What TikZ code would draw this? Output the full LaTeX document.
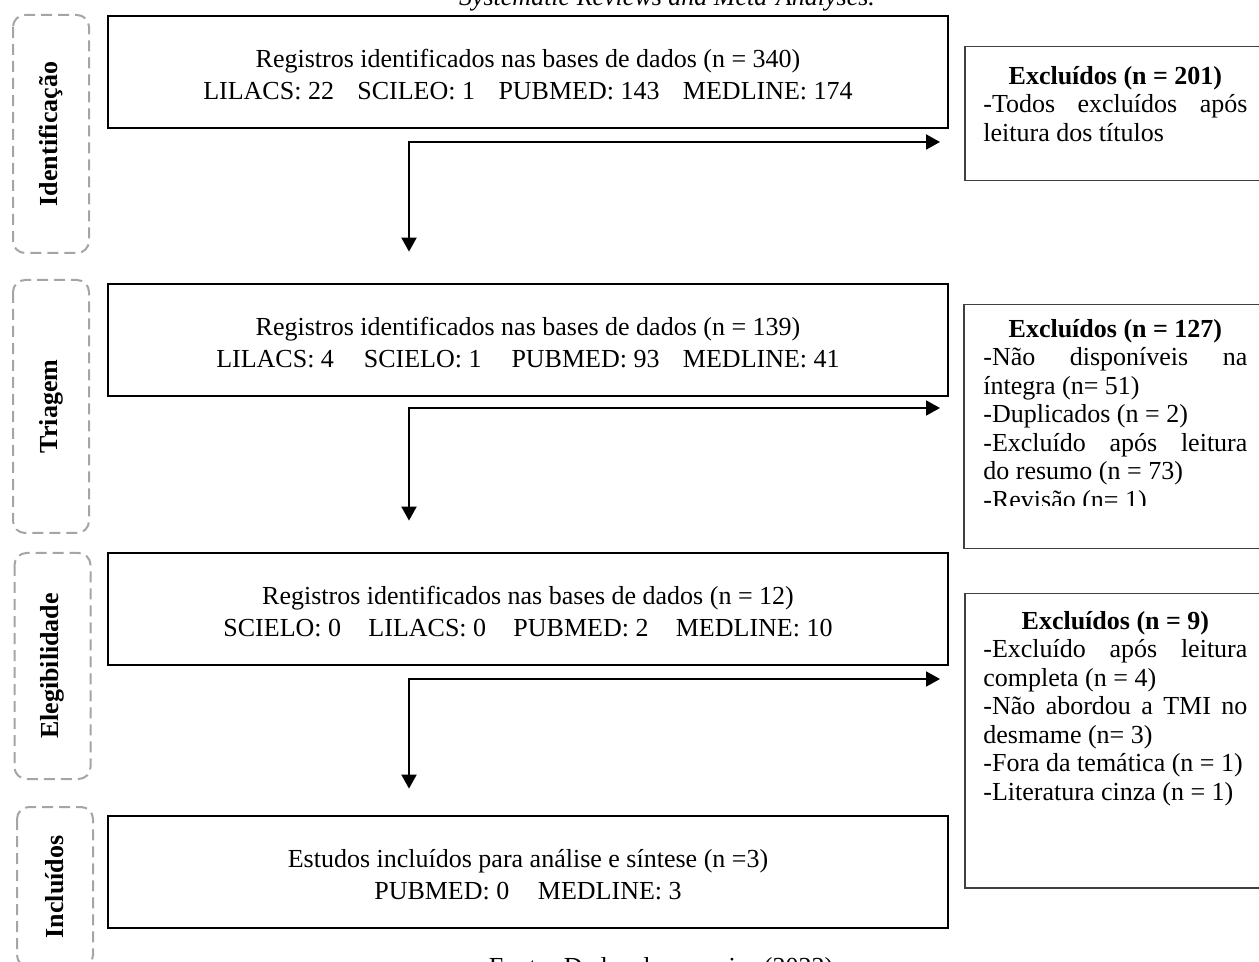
\documentclass[tikz,border=0pt]{standalone}
\usepackage{fontspec}
\setmainfont{Liberation Serif}
\usetikzlibrary{arrows.meta,calc}
\definecolor{phasegray}{RGB}{165,165,165}
\definecolor{exgray}{RGB}{64,64,64}
\newcommand\exsetup{\tolerance=10000 \hyphenpenalty=10000 \relax}
\newcommand\topstrut{\rule{0pt}{12pt}}
\begin{document}
\begin{tikzpicture}[x=0.5pt,y=-0.5pt,
  mainbox/.style={draw=black, line width=1.4pt, minimum width=420pt, minimum height=56pt,
    align=center, inner sep=0pt, font=\fontsize{13pt}{16pt}\selectfont},
  phase/.style={draw=phasegray, line width=1pt, dash pattern=on 5.5pt off 3pt,
    rounded corners=6pt, rotate=90, inner sep=0pt, minimum height=38pt,
    font=\bfseries\fontsize{13pt}{15pt}\selectfont},
  exbox/.style={draw=exgray, line width=0.75pt, anchor=north west, minimum width=151pt, inner sep=0pt},
  extext/.style={anchor=north west, inner sep=0pt, text width=132pt, align=justify,
    font=\fontsize{13pt}{14.25pt}\selectfont},
  arr/.style={line width=1pt, line cap=rect, -{Triangle[length=7pt,width=7.5pt]}},
  caption/.style={inner sep=0pt, anchor=base, font=\fontsize{13pt}{15pt}\selectfont}
]
\useasboundingbox (0,0) rectangle (1259,962);

% captions (partly outside the page, as in the reference)
\node[caption, font=\itshape\fontsize{13pt}{15pt}\selectfont] (title) at (667,6) {Systematic Reviews and Meta-Analyses.};
\node[caption] (source) at (661,975) {Fonte: Dados da pesquisa (2022)};

% phase labels
\node[phase, minimum width=119pt]   (pid)  at (51,134)   {Identificação};
\node[phase, minimum width=126.5pt] (ptri) at (51,406.5) {Triagem};
\node[phase, minimum width=113pt]   (pele) at (52.5,666) {Elegibilidade};
\node[phase, minimum width=80pt]    (pinc) at (55,887)   {Incluídos};

% main boxes
\node[mainbox] (b1) at (528,72)  {\topstrut Registros identificados nas bases de dados (n = 340)\\
  LILACS: 22\hspace{0.9em}SCILEO: 1\hspace{0.9em}PUBMED: 143\hspace{0.9em}MEDLINE: 174};
\node[mainbox] (b2) at (528,340) {\topstrut Registros identificados nas bases de dados (n = 139)\\
  LILACS: 4\hspace{1.15em}SCIELO: 1\hspace{1.15em}PUBMED: 93\hspace{0.9em}MEDLINE: 41};
\node[mainbox] (b3) at (528,609) {\topstrut Registros identificados nas bases de dados (n = 12)\\
  SCIELO: 0\hspace{1.05em}LILACS: 0\hspace{1.05em}PUBMED: 2\hspace{1.05em}MEDLINE: 10};
\node[mainbox] (b4) at (528,872) {\topstrut Estudos incluídos para análise e síntese (n =3)\\
  PUBMED: 0\hspace{1.1em}MEDLINE: 3};

% exclusion boxes
\node[exbox, minimum height=67pt]  (r1) at (964,46)  {};
\node[exbox, minimum height=122pt] (r2) at (963,304) {};
\node[exbox, minimum height=147pt] (r3) at (964,593) {};

\node[extext] (t1) at (983,64) {\exsetup\makebox[\linewidth]{\strut\bfseries Excluídos (n = 201)}\\
  -Todos excluídos após\linebreak leitura dos títulos};
\begin{scope}
  \clip (963,304) rectangle (1270,506);
  \node[extext] (t2) at (983,317) {\exsetup\makebox[\linewidth]{\strut\bfseries Excluídos (n = 127)}\\
    -Não disponíveis na\linebreak íntegra (n= 51)\\
    -Duplicados (n = 2)\\
    -Excluído após leitura\linebreak do resumo (n = 73)\\
    -Revisão (n= 1)};
\end{scope}
\node[extext] (t3) at (983,609) {\exsetup\makebox[\linewidth]{\strut\bfseries Excluídos (n = 9)}\\
  -Excluído após leitura\linebreak completa (n = 4)\\
  -Não abordou a TMI no\linebreak desmame (n= 3)\\
  -Fora da temática (n = 1)\\
  -Literatura cinza (n = 1)};

% connectors
\coordinate (j1) at (409,142);
\coordinate (j2) at (409,408);
\coordinate (j3) at (409,679);
\draw[arr, shorten >=15.5pt] (j1) -- (j1 |- b2.north);
\draw[arr, shorten >=12pt]   (j1) -- (j1 -| r1.west);
\draw[arr, shorten >=15.5pt] (j2) -- (j2 |- b3.north);
\draw[arr, shorten >=11.5pt] (j2) -- (j2 -| r2.west);
\draw[arr, shorten >=13pt]   (j3) -- (j3 |- b4.north);
\draw[arr, shorten >=12pt]   (j3) -- (j3 -| r3.west);
\end{tikzpicture}
\end{document}
